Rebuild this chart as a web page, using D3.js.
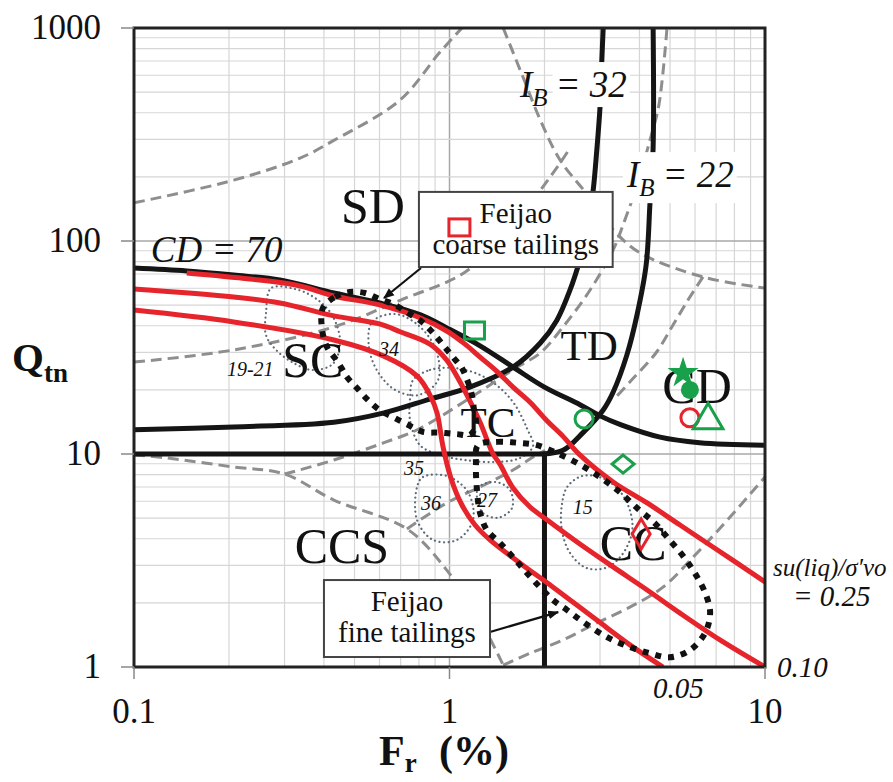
<!DOCTYPE html>
<html>
<head>
<meta charset="utf-8">
<script src="https://cdn.jsdelivr.net/npm/d3@7"></script>
<style>
body { margin: 0; background: #fff; }
text { font-family: "Liberation Serif", "Times New Roman", serif; fill: #111; }
</style>
</head>
<body>
<svg width="893" height="782" font-family="Liberation Serif, serif"></svg>
<script>

// ---- values: Fr (%) and Qtn ----
var xTicks = [0.1, 1, 10];
var yTicks = [1, 10, 100, 1000];

// solid black boundaries
var cdFr = [0.1, 0.147, 0.207, 0.29, 0.43, 0.6, 0.81, 0.98, 1.25, 1.59, 2.0, 2.6, 3.0, 3.5, 4.65, 6.2, 10];
var cdQ  = [74.6, 72.3, 69.2, 65.6, 57, 51.2, 45, 39.1, 32.2, 25.6, 20.6, 17, 15.1, 13.7, 12, 11.3, 11];
var ib32Fr = [0.1, 0.207, 0.43, 0.62, 0.867, 1.16, 1.59, 1.94, 2.19, 2.41, 2.59, 2.73, 2.85, 2.93, 3.0, 3.04, 3.07];
var ib32Q  = [13.0, 13.4, 14.1, 15.6, 18.1, 20.6, 25.6, 33.2, 42.5, 58.9, 81.5, 110, 170, 267, 426, 708, 1000];
var ib22Fr = [1.98, 2.29, 2.65, 3.07, 3.3, 3.65, 3.93, 4.2, 4.32, 4.42, 4.42];
var ib22Q  = [10, 10.4, 12.6, 16.1, 19.5, 29.2, 45, 77.1, 151, 276, 1000];
var ccsFr = [0.1, 2, 2];
var ccsQ  = [10, 10, 1];

// red su(liq)/sigma'vo contours
var r25Fr = [0.147, 0.233, 0.336, 0.43, 0.6, 0.81, 0.98, 1.12, 1.25, 1.41, 1.59, 1.8, 2.04, 2.29, 2.59, 3.3, 4.23, 5.38, 6.84, 10];
var r25Q  = [70.8, 66.3, 61.5, 55.2, 50.1, 43.5, 37.8, 32.8, 28.5, 24.5, 20.6, 17.5, 14.3, 12.1, 9.9, 7.39, 5.89, 4.64, 3.66, 2.51];
var r10Fr = [0.1, 0.207, 0.29, 0.43, 0.6, 0.7, 0.867, 0.98, 1.064, 1.136, 1.25, 1.37, 1.45, 1.59, 1.8, 2.04, 2.59, 3.3, 4.23, 5.38, 7.2, 10];
var r10Q  = [59.5, 54.6, 51.2, 44.5, 40.8, 37.4, 32.8, 27.6, 22.7, 18.9, 14.1, 10.1, 8.88, 6.92, 5.64, 4.9, 3.78, 2.95, 2.3, 1.79, 1.34, 1];
var r05Fr = [0.1, 0.207, 0.43, 0.62, 0.79, 0.867, 0.913, 0.954, 1.01, 1.095, 1.205, 1.344, 1.67, 2.13, 2.93, 3.82, 4.75];
var r05Q  = [47.4, 41.7, 34.3, 28.8, 23.2, 18.9, 15.6, 10.8, 7.72, 5.76, 4.64, 3.95, 3.08, 2.37, 1.66, 1.24, 1];

// grey dashed background boundaries
var d1Fr = [0.1, 0.207, 0.336, 0.427, 0.697, 0.933, 1.095];
var d1Q  = [151, 193, 245, 295, 459, 771, 1000];
var d2Fr = [1.48, 1.7, 1.94, 2.24, 2.69, 3.3, 4.02, 6.36, 10];
var d2Q  = [1000, 601, 370, 240, 170, 113, 87.9, 67.8, 60.1];
var d3Fr = [0.1, 0.207, 0.43, 0.7, 1.11, 1.5, 1.94, 2.24, 2.41];
var d3Q  = [27, 30.8, 39.5, 52.8, 70.8, 107, 173, 232, 273];
var d4Fr = [0.3, 0.43, 0.62, 0.79, 1.1, 1.64, 1.94, 2.29, 2.79, 3.3, 3.6, 3.93, 4.32, 4.61, 4.89];
var d4Q  = [8.05, 9.37, 11.3, 13, 17.4, 25.6, 29.8, 39.5, 58.9, 90.7, 126, 183, 298, 435, 1000];
var d5Fr = [6.36, 5.7, 5.11, 4.51, 3.73, 3.35];
var d5Q  = [67.8, 52.8, 40.3, 29.8, 21.8, 18.3];
var d6Fr = [0.1, 0.127, 0.207, 0.3, 0.43, 0.733, 0.98, 1.25, 1.48];
var d6Q  = [9.9, 9.58, 8.69, 8.05, 6.08, 4.45, 2.85, 1.66, 1.02];
var d7Fr = [1.48, 1.8, 2.29, 2.93, 3.73, 4.75, 6.09, 7.75, 10];
var d7Q  = [1.02, 1.16, 1.34, 1.61, 1.91, 2.37, 3.43, 5.06, 7.8];
var d8Fr = [0.733, 0.98, 1.25, 1.59, 1.84, 2.01];
var d8Q  = [4.45, 5.89, 7.0, 8.41, 9.68, 10.4];

// Feijao tailings envelopes (thick dots)
var coarseFr = [0.397, 0.434, 0.484, 0.54, 0.6, 0.672, 0.739, 0.818, 0.887, 0.954, 1.026, 1.095, 1.144, 1.178, 1.196, 1.213, 1.161, 1.056, 0.933, 0.824, 0.733, 0.662, 0.6, 0.552, 0.509, 0.473, 0.443, 0.409, 0.394];
var coarseQ  = [48.5, 54.6, 57.6, 57, 53.4, 50.1, 45.9, 41.7, 37, 32.5, 28.5, 25.3, 21.8, 18.9, 16.1, 13.7, 12.3, 12.4, 12.6, 12.7, 13.8, 14.9, 16.1, 17.9, 20.4, 23, 27, 31.8, 39.1];
var fineFr = [1.231, 1.415, 1.636, 1.894, 2.19, 2.54, 2.93, 3.4, 3.93, 4.47, 4.98, 5.56, 6.09, 6.5, 6.7, 6.45, 5.78, 4.98, 4.32, 3.73, 3.16, 2.65, 2.36, 2.13, 1.936, 1.76, 1.59, 1.446, 1.315, 1.25, 1.222, 1.213];
var fineQ  = [11, 11.4, 11.3, 11, 10.1, 9.07, 7.97, 6.78, 5.58, 4.74, 3.95, 3.25, 2.65, 2.18, 1.79, 1.44, 1.2, 1.11, 1.16, 1.24, 1.38, 1.63, 1.85, 2.06, 2.37, 2.76, 3.28, 3.82, 4.39, 5.28, 6.78, 8.88];

// other case-history envelopes (thin dots)
var l1921Fr = [0.272, 0.262, 0.262, 0.282, 0.317, 0.367, 0.427, 0.45, 0.424, 0.375, 0.324];
var l1921Q  = [60.1, 45.9, 36.2, 30.8, 27, 24.8, 26.5, 33.6, 45, 54, 59.5];
var l34Fr = [0.568, 0.556, 0.593, 0.672, 0.795, 0.919, 0.906, 0.795, 0.672];
var l34Q  = [41.7, 31.5, 24.3, 20, 18.9, 22.2, 30.8, 40.3, 45.4];
var ltcFr = [0.766, 0.867, 1.041, 1.25, 1.446, 1.613, 1.76, 1.84, 1.673, 1.394, 1.12, 0.933, 0.806, 0.75, 0.75];
var ltcQ  = [22.2, 24.8, 25.3, 23.5, 20.4, 17, 13.2, 10.9, 9.58, 9.17, 9.37, 9.9, 11, 14.4, 18.3];
var l36Fr = [0.789, 0.824, 0.982, 1.144, 1.187, 1.056, 0.887, 0.789];
var l36Q  = [7, 7.8, 7.88, 6.63, 4.9, 3.95, 3.95, 4.9];
var l27Fr = [1.231, 1.394, 1.555, 1.578, 1.425, 1.268];
var l27Q  = [6.92, 7.39, 6.78, 5.58, 5.02, 5.34];
var l15Fr = [2.36, 2.63, 3.04, 3.44, 3.73, 3.79, 3.52, 3.13, 2.71, 2.41, 2.27, 2.27];
var l15Q  = [7, 7.88, 7.72, 6.78, 5.45, 4.3, 3.36, 2.92, 2.92, 3.43, 4.39, 5.76];

// individual test points
var markerNames = ["gSquare", "gCircle", "gDiamond", "rDiamond", "rCircle", "gTriangle", "gDot", "gStar"];
var markerFr = [1.2, 2.67, 3.55, 4.05, 5.78, 6.6, 5.78, 5.5];
var markerQ  = [37.8, 14.6, 8.97, 4.21, 14.8, 14.4, 20, 24];

// zone names and their anchor (Fr, Qtn)
var zoneNames = ["SD", "SC", "TC", "TD", "CD", "CC", "CCS"];
var zoneFr = [0.572, 0.369, 1.325, 2.77, 6.09, 3.82, 0.456];
var zoneQ  = [121.5, 23.0, 12.0, 27.6, 17.4, 3.18, 3.08];

var loopNames = ["19-21", "34", "35", "36", "27", "15"];
var loopFr = [0.197, 0.598, 0.717, 0.812, 1.222, 2.46];
var loopQ  = [23.2, 28.8, 7.97, 5.46, 5.64, 5.23];

// ---- drawing ----
var svg = d3.select("svg");
var x = d3.scaleLog().domain([0.1, 10]).range([134, 765]),
    y = d3.scaleLog().domain([1, 1000]).range([667, 28]);

var RED = "#e5252b", GREEN = "#18a04b";

function pts(fr, q) { return fr.map(function(f, i) { return [f, q[i]]; }); }

var line = d3.line().x(function(d) { return x(d[0]); }).y(function(d) { return y(d[1]); })
    .curve(d3.curveCatmullRom.alpha(0.5));
var loop = d3.line().x(function(d) { return x(d[0]); }).y(function(d) { return y(d[1]); })
    .curve(d3.curveCatmullRomClosed.alpha(0.5));
var straight = d3.line().x(function(d) { return x(d[0]); }).y(function(d) { return y(d[1]); });

var defs = svg.append("defs");
defs.append("clipPath").attr("id", "plot")
  .append("rect").attr("x", 134).attr("y", 28).attr("width", 631).attr("height", 639);
defs.append("marker").attr("id", "arrow").attr("viewBox", "0 -5 10 10")
    .attr("refX", 9).attr("refY", 0).attr("markerWidth", 5).attr("markerHeight", 5)
    .attr("markerUnits", "strokeWidth").attr("orient", "auto")
  .append("path").attr("d", "M0,-4L10,0L0,4Z").attr("fill", "#111");

// grid
var grid = svg.append("g");
grid.selectAll(".gx").data(x.ticks().filter(function(v) { return v > 0.1 && v < 10; }))
  .enter().append("line")
    .attr("x1", function(d) { return x(d); }).attr("x2", function(d) { return x(d); })
    .attr("y1", 28).attr("y2", 667)
    .attr("stroke", function(d) { return d === 1 ? "#a8a8a8" : "#d6d6d6"; })
    .attr("stroke-width", function(d) { return d === 1 ? 1.5 : 1.2; });
grid.selectAll(".gy").data(y.ticks().filter(function(v) { return v > 1 && v < 1000; }))
  .enter().append("line")
    .attr("y1", function(d) { return y(d); }).attr("y2", function(d) { return y(d); })
    .attr("x1", 134).attr("x2", 765)
    .attr("stroke", function(d) { return (d === 10 || d === 100) ? "#a8a8a8" : "#d6d6d6"; })
    .attr("stroke-width", function(d) { return (d === 10 || d === 100) ? 1.5 : 1.2; });

var plot = svg.append("g").attr("clip-path", "url(#plot)");

// dashed grey
var dashed = [pts(d1Fr, d1Q), pts(d2Fr, d2Q), pts(d3Fr, d3Q), pts(d4Fr, d4Q),
              pts(d5Fr, d5Q), pts(d6Fr, d6Q), pts(d7Fr, d7Q), pts(d8Fr, d8Q)];
plot.selectAll(".dash").data(dashed).enter().append("path")
    .attr("d", line).attr("fill", "none")
    .attr("stroke", "#8e8e8e").attr("stroke-width", 3).attr("stroke-dasharray", "11,6");

// thin dotted envelopes
var thin = [pts(l1921Fr, l1921Q), pts(l34Fr, l34Q), pts(ltcFr, ltcQ),
            pts(l36Fr, l36Q), pts(l27Fr, l27Q), pts(l15Fr, l15Q)];
plot.selectAll(".thin").data(thin).enter().append("path")
    .attr("d", loop).attr("fill", "none")
    .attr("stroke", "#5d6b78").attr("stroke-width", 2.2)
    .attr("stroke-linecap", "round").attr("stroke-dasharray", "0.1,4.5");

// black boundaries
plot.selectAll(".blk").data([pts(cdFr, cdQ), pts(ib32Fr, ib32Q), pts(ib22Fr, ib22Q)])
  .enter().append("path")
    .attr("d", line).attr("fill", "none").attr("stroke", "#151515").attr("stroke-width", 5);
plot.append("path").datum(pts(ccsFr, ccsQ))
    .attr("d", straight).attr("fill", "none").attr("stroke", "#151515").attr("stroke-width", 5);

// red contours
plot.selectAll(".red").data([pts(r25Fr, r25Q), pts(r10Fr, r10Q), pts(r05Fr, r05Q)])
  .enter().append("path")
    .attr("d", line).attr("fill", "none").attr("stroke", RED).attr("stroke-width", 5);

// thick dotted Feijao envelopes
plot.selectAll(".thick").data([pts(coarseFr, coarseQ), pts(fineFr, fineQ)])
  .enter().append("path")
    .attr("d", loop).attr("fill", "none").attr("stroke", "#111")
    .attr("stroke-width", 6).attr("stroke-dasharray", "6,7");

// frame
svg.append("rect").attr("x", 134).attr("y", 28).attr("width", 631).attr("height", 639)
    .attr("fill", "none").attr("stroke", "#222").attr("stroke-width", 3);

// ticks
svg.selectAll(".ty").data(yTicks).enter().append("line")
    .attr("x1", 121).attr("x2", 134).attr("y1", function(d) { return y(d); }).attr("y2", function(d) { return y(d); })
    .attr("stroke", "#888").attr("stroke-width", 1.5);
svg.selectAll(".tx").data(xTicks).enter().append("line")
    .attr("y1", 667).attr("y2", 679).attr("x1", function(d) { return x(d); }).attr("x2", function(d) { return x(d); })
    .attr("stroke", "#888").attr("stroke-width", 1.5);
svg.selectAll(".ly").data(yTicks).enter().append("text")
    .attr("x", 101).attr("y", function(d) { return y(d) + 11; })
    .attr("text-anchor", "end").attr("font-size", 35).text(function(d) { return d; });
svg.selectAll(".lx").data(xTicks).enter().append("text")
    .attr("x", function(d) { return x(d); }).attr("y", 723)
    .attr("text-anchor", "middle").attr("font-size", 35).text(function(d) { return d; });

// axis titles
var qt = svg.append("text").attr("x", 12).attr("y", 371).attr("font-weight", "bold").attr("font-size", 41);
qt.append("tspan").text("Q");
qt.append("tspan").attr("font-size", 27).attr("dy", 11).text("tn");
var ft = svg.append("text").attr("x", 379).attr("y", 765).attr("font-weight", "bold").attr("font-size", 42);
ft.append("tspan").text("F");
ft.append("tspan").attr("font-size", 27).attr("dy", 7).text("r");
ft.append("tspan").attr("x", 439).attr("dy", -7).text("(%)");

// zone names
svg.selectAll(".zone").data(zoneNames).enter().append("text")
    .attr("x", function(d, i) { return x(zoneFr[i]); })
    .attr("y", function(d, i) { return y(zoneQ[i]); })
    .attr("text-anchor", "middle")
    .attr("font-size", function(d) { return (d === "TD" || d === "TC") ? 43 : 50; })
    .text(function(d) { return d; });

// envelope numbers
svg.selectAll(".lnum").data(loopNames).enter().append("text")
    .attr("x", function(d, i) { return x(loopFr[i]); })
    .attr("y", function(d, i) { return y(loopQ[i]); })
    .attr("font-style", "italic").attr("font-size", 20).attr("fill", "#222")
    .text(function(d) { return d; });

// boundary labels
svg.append("text").attr("x", x(0.113)).attr("y", y(79.7))
    .attr("font-style", "italic").attr("font-size", 37).text("CD = 70");

function ibLabel(fr, q, val, fullBg) {
  var gx = x(fr), gy = y(q);
  var g = svg.append("g");
  var t1 = g.append("text").attr("x", gx).attr("y", gy).attr("font-style", "italic").attr("font-size", 37);
  t1.append("tspan").text("I");
  t1.append("tspan").attr("font-size", 25).attr("dy", 9).text("B");
  var w1 = t1.node().getBBox();
  var t2 = g.append("text").attr("x", w1.x + w1.width + 8).attr("y", gy)
      .attr("font-style", "italic").attr("font-size", 37).text("= " + val);
  var b = fullBg ? g.node().getBBox() : t2.node().getBBox();
  g.insert("rect", "text").attr("x", b.x - 3).attr("y", b.y - 2)
      .attr("width", b.width + 6).attr("height", b.height + 4).attr("fill", "#fff");
}
ibLabel(1.673, 474, 32, false);
ibLabel(3.65, 179, 22, true);

svg.append("text").attr("x", x(10) + 8).attr("y", y(r25Q[r25Q.length - 1]) - 6)
    .attr("font-style", "italic").attr("font-size", 25).text("su(liq)/σ′vo");
svg.append("text").attr("x", x(10) + 28).attr("y", y(r25Q[r25Q.length - 1]) + 24)
    .attr("font-style", "italic").attr("font-size", 29).text("= 0.25");
svg.append("text").attr("x", x(10) + 12).attr("y", y(1) + 10)
    .attr("font-style", "italic").attr("font-size", 29).text("0.10");
svg.append("text").attr("x", x(r05Fr[r05Fr.length - 1]) - 10).attr("y", y(1) + 31)
    .attr("font-style", "italic").attr("font-size", 29).text("0.05");

// markers
var mk = svg.append("g").attr("fill", "none").attr("stroke-width", 3);
markerNames.forEach(function(n, i) {
  var cx = x(markerFr[i]), cy = y(markerQ[i]);
  if (n === "gSquare") {
    mk.append("rect").attr("x", cx - 10).attr("y", cy - 9).attr("width", 20).attr("height", 17).attr("stroke", GREEN);
  } else if (n === "gCircle" || n === "rCircle") {
    mk.append("circle").attr("cx", cx).attr("cy", cy).attr("r", 9).attr("stroke", n === "gCircle" ? GREEN : RED);
  } else if (n === "gDiamond" || n === "rDiamond") {
    var w = n === "gDiamond" ? 11 : 9, h = n === "gDiamond" ? 9 : 15;
    mk.append("path").attr("d", "M" + cx + "," + (cy - h) + "L" + (cx + w) + "," + cy + "L" + cx + "," + (cy + h) + "L" + (cx - w) + "," + cy + "Z")
        .attr("stroke", n === "gDiamond" ? GREEN : RED);
  } else if (n === "gTriangle") {
    mk.append("path").attr("d", d3.symbol(d3.symbolTriangle, 380)())
        .attr("transform", "translate(" + cx + "," + cy + ")").attr("stroke", GREEN);
  } else if (n === "gDot") {
    mk.append("circle").attr("cx", cx).attr("cy", cy).attr("r", 9).attr("fill", GREEN).attr("stroke", "none");
  } else if (n === "gStar") {
    mk.append("path").attr("d", d3.symbol(d3.symbolStar, 300)())
        .attr("transform", "translate(" + cx + "," + cy + ")").attr("fill", GREEN).attr("stroke", "none");
  }
});

// Feijao call-out boxes
function callout(f0, q0, f1, q1, lines, withSquare, arrowFrom, arrowTo) {
  var x0 = x(f0), y0 = y(q0), x1 = x(f1), y1 = y(q1), cx = (x0 + x1) / 2;
  svg.append("line").attr("x1", x(arrowFrom[0])).attr("y1", y(arrowFrom[1]))
      .attr("x2", x(arrowTo[0])).attr("y2", y(arrowTo[1]))
      .attr("stroke", "#111").attr("stroke-width", 2.2).attr("marker-end", "url(#arrow)");
  svg.append("rect").attr("x", x0).attr("y", y0).attr("width", x1 - x0).attr("height", y1 - y0)
      .attr("fill", "#fff").attr("stroke", "#444").attr("stroke-width", 2);
  if (withSquare) {
    svg.append("rect").attr("x", x0 + 30).attr("y", y0 + 27).attr("width", 21).attr("height", 17)
        .attr("fill", "none").attr("stroke", RED).attr("stroke-width", 3);
  }
  lines.forEach(function(s, i) {
    svg.append("text").attr("x", cx).attr("y", y0 + 31 + i * 31)
        .attr("text-anchor", "middle").attr("font-size", 29).text(s);
  });
}
callout(0.8, 170, 3.29, 75.5, ["Feijao", "coarse tailings"], true, [0.812, 74.7], [0.62, 54]);
callout(0.40, 2.56, 1.344, 1.114, ["Feijao", "fine tailings"], false, [1.344, 1.46], [2.21, 1.81]);

</script>
</body>
</html>
